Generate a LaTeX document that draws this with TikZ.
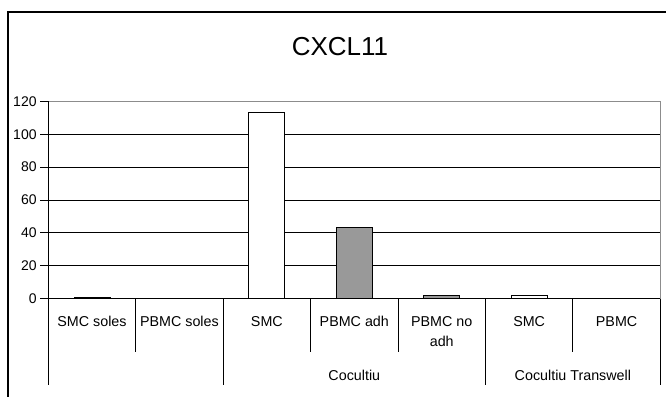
\documentclass[tikz,border=0pt]{standalone}
\usepackage{fontspec}
\setmainfont{Liberation Sans}
\begin{document}
\begin{tikzpicture}[x=1pt,y=-1pt,
  grid/.style={black,line width=0.9pt},
  axis/.style={black,line width=1pt},
  plotborder/.style={gray!90,line width=1pt},
  bar/.style={draw=black,line width=1pt},
  ticklbl/.style={anchor=east,inner sep=0pt,font=\fontsize{14}{16}\selectfont},
  catlbl/.style={anchor=base,inner sep=0pt,align=center,font=\fontsize{14.3}{20.7}\selectfont},
  titlelbl/.style={anchor=base,inner sep=0pt,font=\fontsize{26}{28}\selectfont}]
\useasboundingbox (0,0) rectangle (666,396);
\clip (0,0) rectangle (666,396);
\def\xl{48.3}\def\xr{660.3}\def\cw{87.43}
\def\yz{298.5}\def\ys{1.6417}
% outer frame
\coordinate (fbl) at (8.3,420);
\coordinate (ftl) at (8.3,12.3);
\coordinate (ftr) at (690,12.3);
\draw[black,line width=1.7pt] (fbl) -- (ftl) -- (ftr);
% title
\node[titlelbl] (title) at (340,55.7) {CXCL11};
% gridlines and y ticks
\foreach \v in {20,40,...,100}{
  \draw[grid] (\xl,{\yz-\ys*\v}) -- (\xr,{\yz-\ys*\v});
}
\foreach \v [count=\i] in {0,20,...,120}{
  \coordinate (yt\i) at (\xl,{\yz-\ys*\v});
  \draw[axis] (40,{\yz-\ys*\v}) -- (yt\i);
  \node[ticklbl] (ylbl\i) at (36.8,{\yz-\ys*\v}) {\v};
}
% plot border
\coordinate (ptl) at (\xl,{\yz-\ys*120});
\coordinate (ptr) at (\xr,{\yz-\ys*120});
\coordinate (pbr) at (\xr,\yz);
\coordinate (pbl) at (\xl,\yz);
\draw[plotborder] (ptl) -- (ptr) -- (pbr);
% bars
\foreach \k/\v/\c in {1/0.8/white,3/113.5/white,4/43.2/gray!80,5/1.7/gray!80,6/1.7/white}{
  \draw[bar,fill=\c] ({\xl+\cw*(\k-0.5)-18},\yz) rectangle ({\xl+\cw*(\k-0.5)+18},{\yz-\ys*\v});
}
% axes
\draw[axis] (ptl) -- (\xl,385);
\draw[axis] (pbl) -- (pbr);
% category ticks
\foreach \k in {1,3,4,6}{
  \draw[axis] ({\xl+\cw*\k},\yz) -- ({\xl+\cw*\k},351.7);
}
\foreach \k in {2,5,7}{
  \draw[axis] ({\xl+\cw*\k},\yz) -- ({\xl+\cw*\k},385);
}
% category labels
\node[catlbl] (c1) at ({\xl+\cw*0.5},326) {SMC soles};
\node[catlbl] (c2) at ({\xl+\cw*1.5},326) {PBMC soles};
\node[catlbl] (c3) at ({\xl+\cw*2.5},326) {SMC};
\node[catlbl] (c4) at ({\xl+\cw*3.5},326) {PBMC adh};
\node[catlbl] (c5) at ({\xl+\cw*4.5},346.7) {PBMC no\\adh};
\node[catlbl] (c6) at ({\xl+\cw*5.5},326) {SMC};
\node[catlbl] (c7) at ({\xl+\cw*6.5},326) {PBMC};
% group labels
\node[catlbl] (g1) at ({\xl+\cw*3.5},380) {Cocultiu};
\node[catlbl] (g2) at ({\xl+\cw*6},380) {Cocultiu Transwell};
\end{tikzpicture}
\end{document}
